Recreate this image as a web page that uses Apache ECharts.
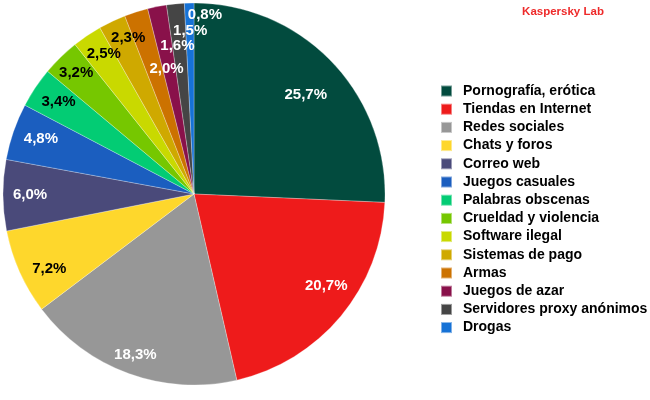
<!DOCTYPE html>
<html>
<head>
<meta charset="utf-8">
<script src="https://cdn.jsdelivr.net/npm/echarts@6/dist/echarts.min.js"></script>
<style>
  html, body { margin: 0; padding: 0; background: #fff; }
  #chart { width: 650px; height: 400px; }
</style>
</head>
<body>
<div id="chart"></div>
<script>
"use strict";

var categories = [
  "Pornografía, erótica", "Tiendas en Internet", "Redes sociales", "Chats y foros",
  "Correo web", "Juegos casuales", "Palabras obscenas", "Crueldad y violencia",
  "Software ilegal", "Sistemas de pago", "Armas", "Juegos de azar",
  "Servidores proxy anónimos", "Drogas"
];
var shares = [25.7, 20.7, 18.3, 7.2, 6.0, 4.8, 3.4, 3.2, 2.5, 2.3, 2.0, 1.6, 1.5, 0.8];

var colors = [
  "#024b3e", "#ee1b1b", "#979797", "#fed72c", "#4a4a7a", "#1b5ebf", "#03cc74",
  "#76c700", "#c9d900", "#cfa900", "#cc7200", "#89114a", "#454545", "#1672d6"
];
// slices with black labels
var darkText = [3, 6, 7, 8, 9];
// nudges so labels sit where the original put them
var labelShift = [
  [-6, 14], [7, -12], [-3, 8], [4, 8], [-1, 0], [1, -2], [0, -1],
  [-4, -4], [1, -5], [4, -9], [22, 30], [15, 12], [12, -1], [15, -16]
];

var chart = echarts.init(document.getElementById("chart"));
var font = "Liberation Sans, Arial, sans-serif";

var pieData = categories.map(function (name, i) {
  return { name: name, value: shares[i], itemStyle: { color: colors[i] } };
});

var labelData = categories.map(function (name, i) {
  return {
    name: name,
    value: shares[i],
    label: {
      color: darkText.indexOf(i) >= 0 ? "#000" : "#fff",
      offset: labelShift[i]
    }
  };
});

chart.setOption({
  animation: false,
  color: colors,
  title: {
    text: "Kaspersky Lab",
    left: 558,
    top: 1,
    textAlign: "center",
    textStyle: { color: "#ee2a2a", fontSize: 11.5, fontWeight: "bold", fontFamily: font }
  },
  legend: {
    orient: "vertical",
    left: 435,
    top: 79,
    itemWidth: 11,
    itemHeight: 11,
    itemGap: 4.2,
    icon: "rect",
    data: categories,
    textStyle: {
      color: "#000",
      fontSize: 14,
      fontWeight: "bold",
      fontFamily: font,
      padding: [0, 0, 0, 6],
      lineHeight: 14
    }
  },
  series: [
    {
      type: "pie",
      center: [194, 194],
      radius: 191,
      startAngle: 90,
      clockwise: true,
      silent: true,
      label: { show: false },
      labelLine: { show: false },
      itemStyle: { borderColor: "rgba(255,255,255,0.45)", borderWidth: 0.6 },
      data: pieData
    },
    {
      // transparent ring, only used to place the labels at ~0.84 of the radius
      type: "pie",
      center: [194, 194],
      radius: [129, 191],
      startAngle: 90,
      clockwise: true,
      silent: true,
      legendHoverLink: false,
      avoidLabelOverlap: false,
      labelLayout: { hideOverlap: false },
      itemStyle: { color: "transparent" },
      labelLine: { show: false },
      label: {
        show: true,
        position: "inside",
        fontSize: 15,
        fontWeight: "bold",
        fontFamily: font,
        formatter: function (p) {
          return p.value.toFixed(1).replace(".", ",") + "%";
        }
      },
      data: labelData
    }
  ]
});
</script>
</body>
</html>
